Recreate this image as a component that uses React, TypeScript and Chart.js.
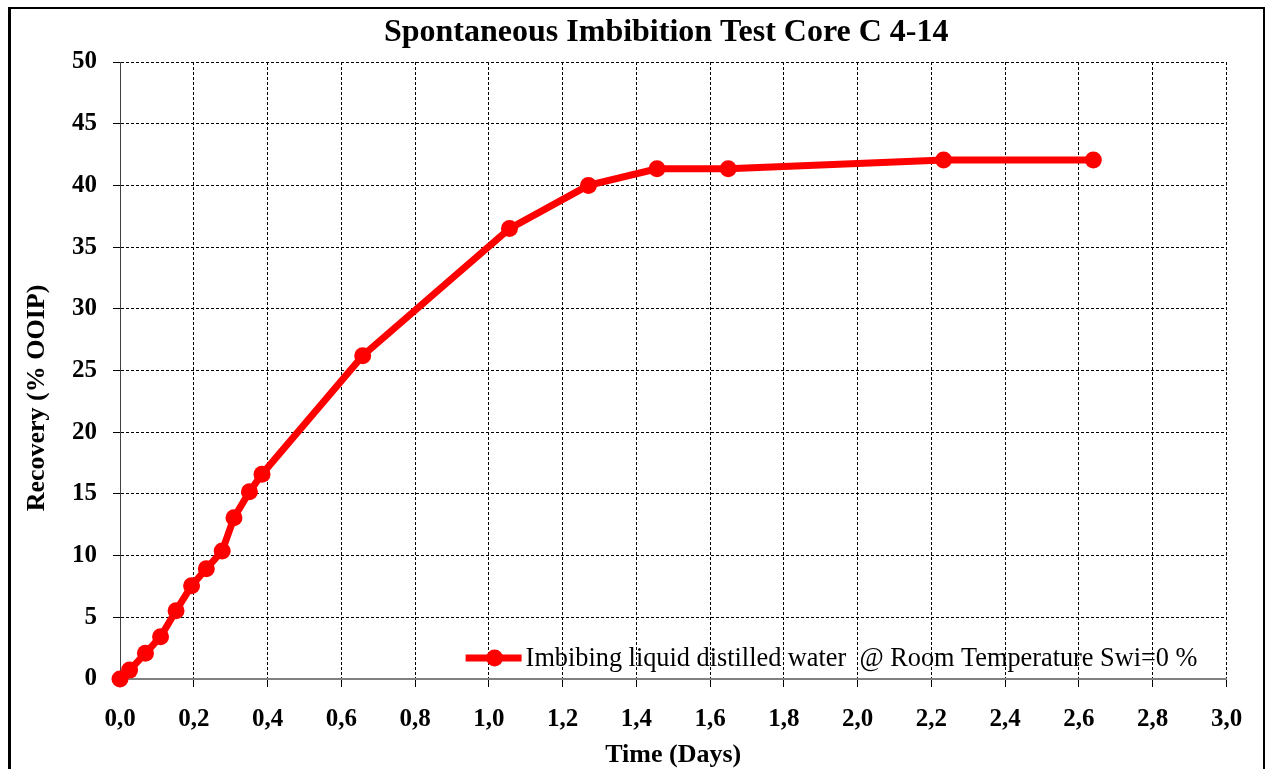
import React, { useEffect, useRef } from 'react';
import { Chart, registerables } from 'chart.js';

Chart.register(...registerables);

// ---- Data ----
const chartTitle = 'Spontaneous Imbibition Test Core C 4-14';
const xAxisTitle = 'Time (Days)';
const yAxisTitle = 'Recovery (% OOIP)';
const seriesLabel = 'Imbibing liquid distilled water  @ Room Temperature Swi=0 %';

const timeDays = [0, 0.026, 0.069, 0.11, 0.152, 0.194, 0.234, 0.277, 0.309, 0.351, 0.385, 0.658, 1.056, 1.27, 1.456, 1.649, 2.233, 2.639];
const recoveryPct = [0, 0.72, 2.08, 3.43, 5.54, 7.56, 8.94, 10.37, 13.07, 15.18, 16.59, 26.2, 36.5, 40.0, 41.35, 41.35, 42.05, 42.05];

const xMin = 0;
const xMax = 3;
const xStep = 0.2;
const yMin = 0;
const yMax = 50;
const yStep = 5;

const SERIF = '"Liberation Serif", "Times New Roman", serif';
const RED = '#ff0000';

export default function App() {
  const ref = useRef<HTMLCanvasElement>(null);

  useEffect(() => {
    if (!ref.current) return;

    const decorPlugin = {
      id: 'decor',
      afterDraw(chart: any) {
        const { ctx, chartArea } = chart;
        ctx.save();
        // outer frame
        ctx.fillStyle = '#000';
        ctx.fillRect(8, 7, 3, 770);
        ctx.fillRect(8, 7, 1257, 2);
        ctx.fillRect(1263, 7, 2, 770);

        // chart title
        ctx.font = `bold 32px ${SERIF}`;
        ctx.fillStyle = '#000';
        ctx.textAlign = 'center';
        ctx.textBaseline = 'middle';
        ctx.fillText(chartTitle, (chartArea.left + chartArea.right) / 2 - 7, chartArea.top - 29);

        // y axis title
        ctx.save();
        ctx.translate(37, 398);
        ctx.rotate(-Math.PI / 2);
        ctx.font = `bold 26px ${SERIF}`;
        ctx.fillStyle = '#000';
        ctx.textAlign = 'center';
        ctx.textBaseline = 'middle';
        ctx.fillText(yAxisTitle, 0, 0);
        ctx.restore();

        // legend inside plot area (bottom right)
        const ly = chartArea.bottom - 21;
        const textRight = chartArea.right - 29;
        ctx.font = `26.3px ${SERIF}`;
        const tw = ctx.measureText(seriesLabel).width;
        const tx = textRight - tw;
        ctx.strokeStyle = RED;
        ctx.lineWidth = 7;
        ctx.lineCap = 'butt';
        ctx.beginPath();
        ctx.moveTo(tx - 60, ly);
        ctx.lineTo(tx - 4, ly);
        ctx.stroke();
        ctx.fillStyle = RED;
        ctx.beginPath();
        ctx.arc(tx - 31, ly, 8.5, 0, Math.PI * 2);
        ctx.fill();
        ctx.fillStyle = '#000';
        ctx.textAlign = 'left';
        ctx.textBaseline = 'middle';
        ctx.fillText(seriesLabel, tx, ly + 1);
        ctx.restore();
      },
    };

    const chart = new Chart(ref.current, {
      type: 'line',
      data: {
        datasets: [
          {
            label: seriesLabel,
            data: timeDays.map((t, i) => ({ x: t, y: recoveryPct[i] })),
            borderColor: RED,
            backgroundColor: RED,
            borderWidth: 7,
            pointRadius: 8.5,
            pointBackgroundColor: RED,
            pointBorderColor: RED,
            pointBorderWidth: 0,
            tension: 0,
            clip: false as any,
          },
        ],
      },
      options: {
        animation: false,
        responsive: false,
        devicePixelRatio: 1,
        layout: { padding: { left: 0, right: 38.5, top: 62, bottom: 0 } },
        plugins: {
          legend: { display: false },
          tooltip: { enabled: false },
          title: { display: false },
        },
        scales: {
          x: {
            type: 'linear',
            min: xMin,
            max: xMax,
            afterFit(scale: any) {
              scale.height = 90;
            },
            ticks: {
              stepSize: xStep,
              color: '#000',
              padding: 18,
              maxRotation: 0,
              autoSkip: false,
              font: { family: SERIF, size: 25, weight: 'bold' },
              callback: (v: any) => Number(v).toFixed(1).replace('.', ','),
            },
            grid: {
              color: '#000',
              lineWidth: 1,
              tickLength: 8,
              tickColor: '#000',
              tickWidth: 1,
              tickBorderDash: [],
            },
            border: { display: true, color: '#808080', width: 2, dash: [3, 2] },
            title: {
              display: true,
              text: xAxisTitle,
              color: '#000',
              font: { family: SERIF, size: 26, weight: 'bold' },
              padding: { top: 0, bottom: -2 },
            },
          },
          y: {
            type: 'linear',
            min: yMin,
            max: yMax,
            afterFit(scale: any) {
              scale.width = 120;
            },
            ticks: {
              stepSize: yStep,
              color: '#000',
              padding: 16,
              font: { family: SERIF, size: 25, weight: 'bold' },
            },
            grid: {
              color: '#000',
              lineWidth: 1,
              tickLength: 7,
              tickColor: '#000',
              tickWidth: 1,
              tickBorderDash: [],
            },
            border: { display: true, color: '#404040', width: 1, dash: [3, 2] },
          },
        },
      },
      plugins: [decorPlugin],
    } as any);

    return () => chart.destroy();
  }, []);

  return (
    <div style={{ position: 'absolute', left: 0, top: 0, width: 1265, height: 769, background: '#fff' }}>
      <canvas ref={ref} width={1265} height={769} style={{ display: 'block' }} />
    </div>
  );
}
